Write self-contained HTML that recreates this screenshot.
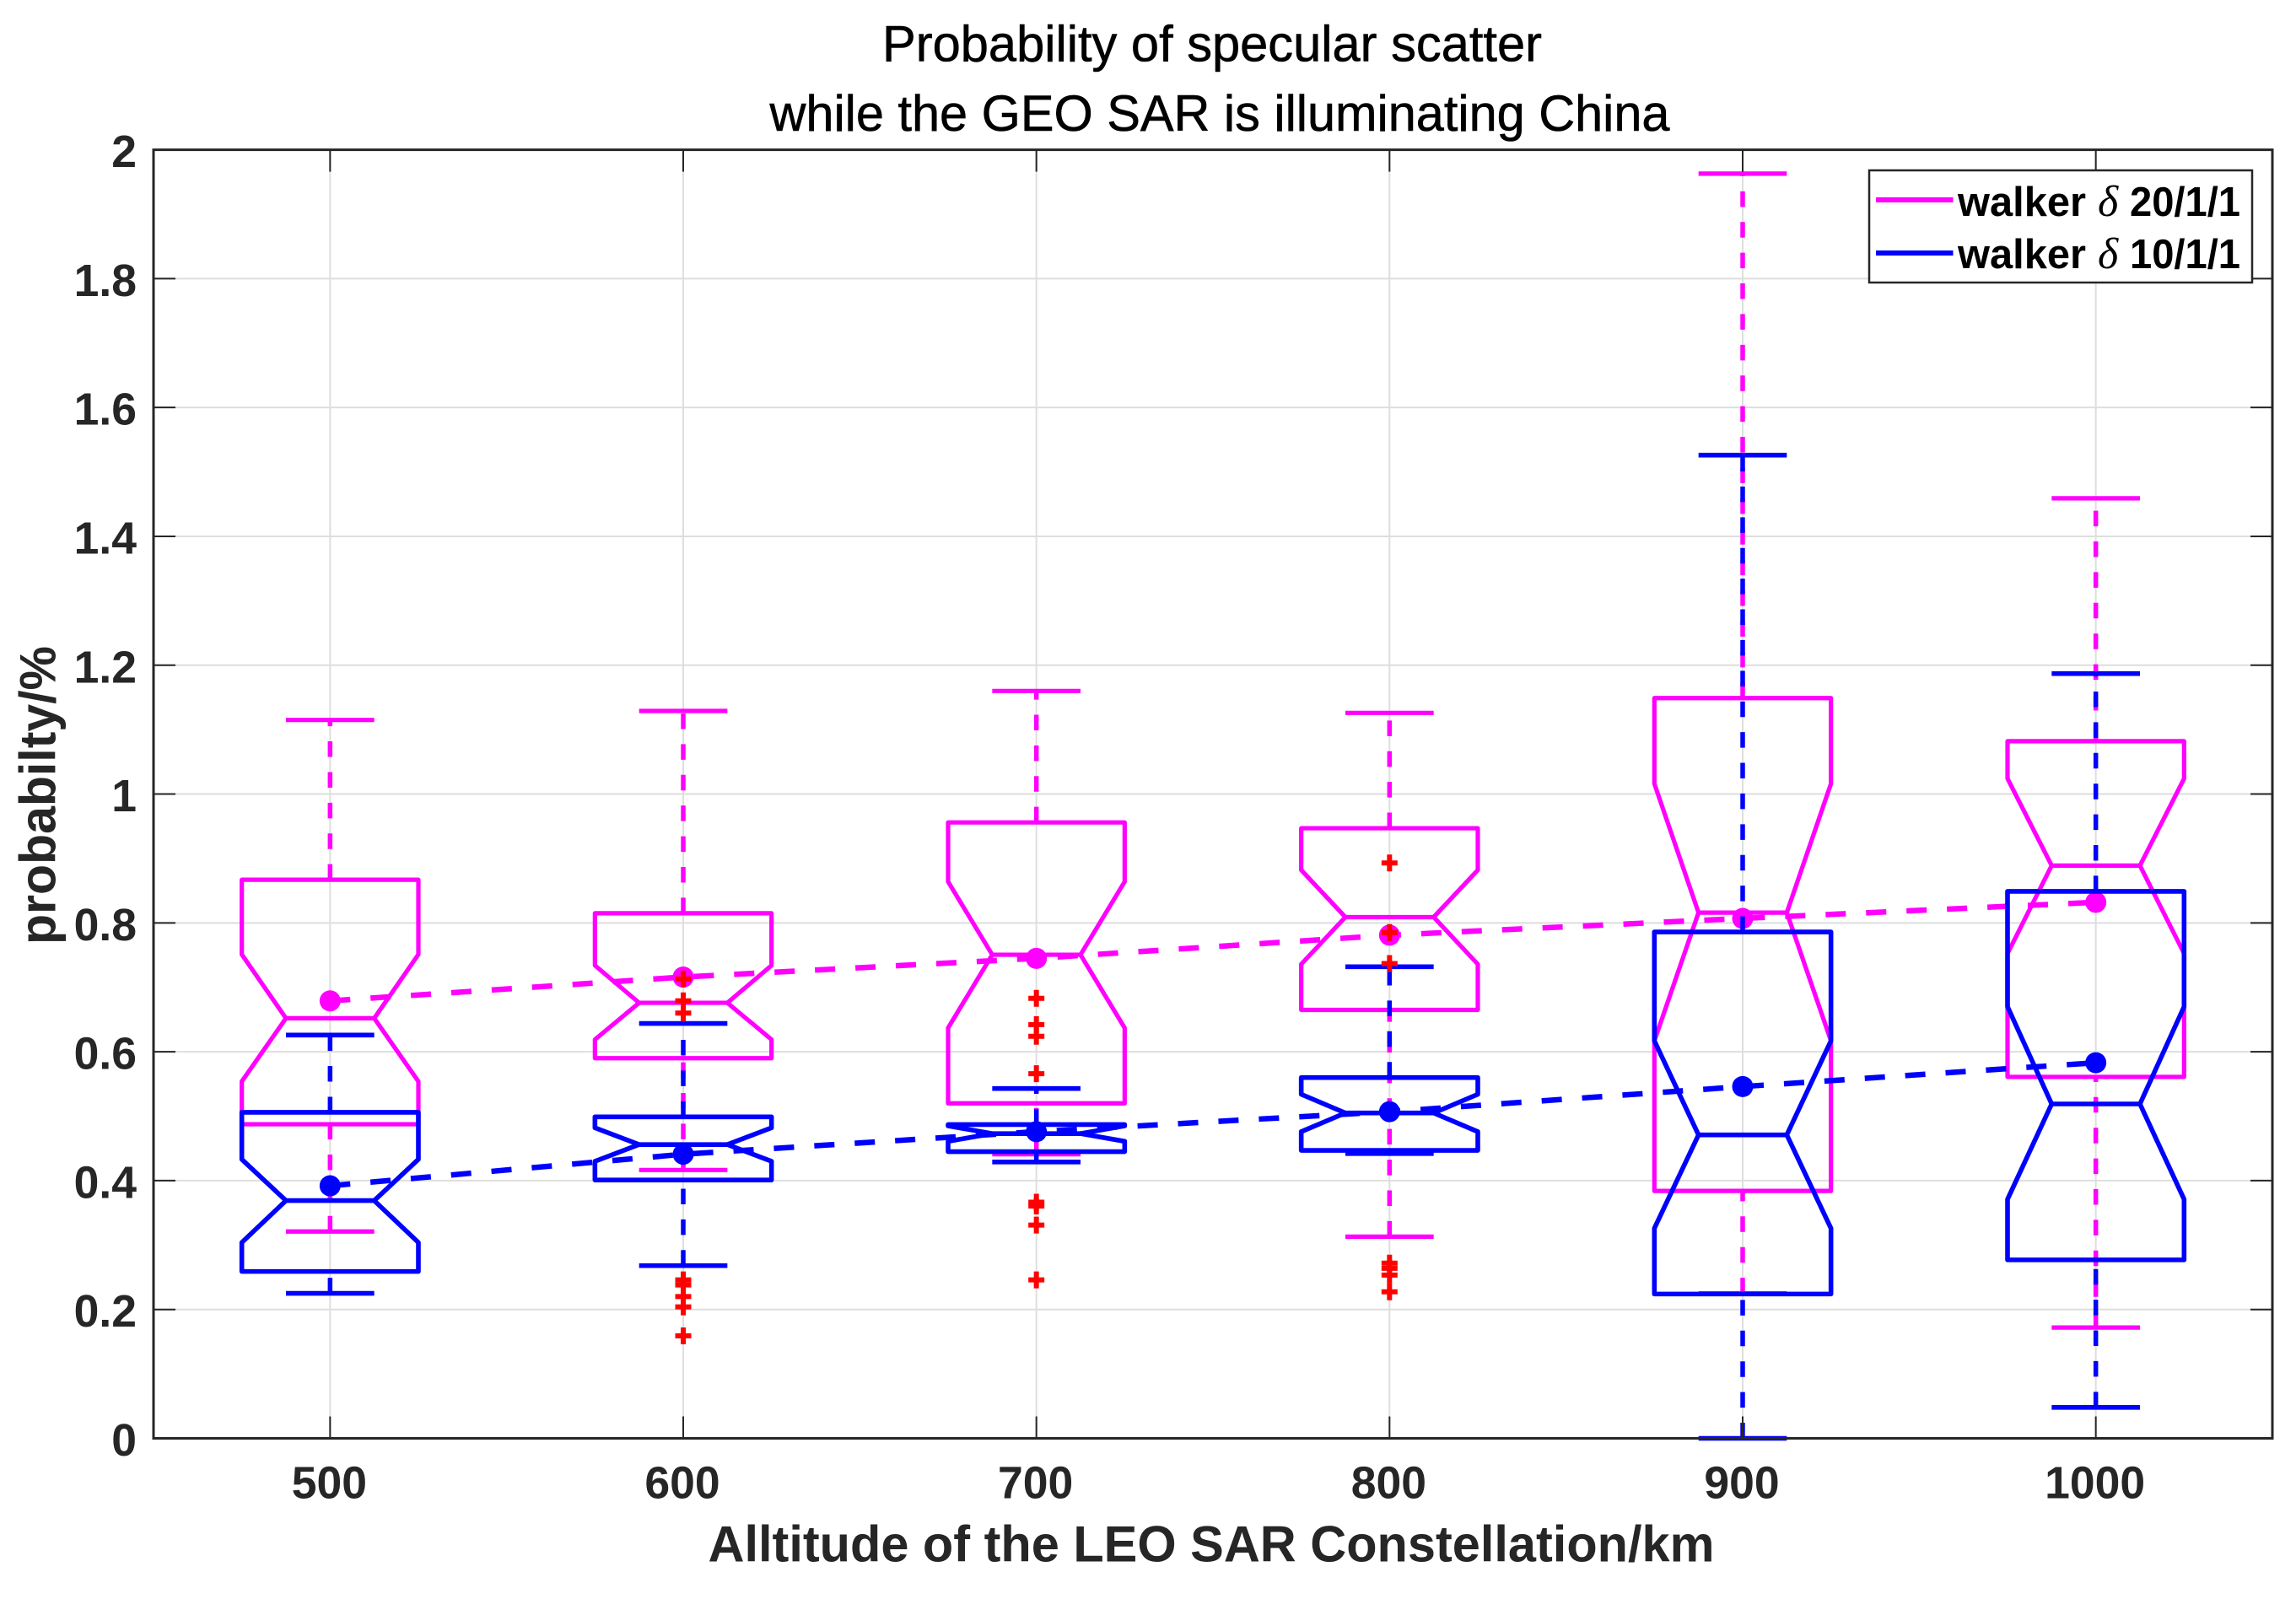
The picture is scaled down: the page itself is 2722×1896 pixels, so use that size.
<!DOCTYPE html>
<html lang="en">
<head>
<meta charset="utf-8">
<title>Probability of specular scatter</title>
<style>
html,body{margin:0;padding:0;background:#fff;}
svg{display:block;}
text{font-family:"Liberation Sans",Arial,sans-serif;}
</style>
</head>
<body>
<svg id="chart" xmlns="http://www.w3.org/2000/svg" width="2722" height="1896" viewBox="0 0 2722 1896">
  <rect x="0" y="0" width="2722" height="1896" fill="#fff"/>
  <g id="grid"></g>
  <g id="series-magenta"></g>
  <g id="series-blue"></g>
  <g id="outliers"></g>
  <g id="axes-frame"></g>
  <g id="tick-labels"></g>

  <text x="1437" y="72.5" text-anchor="middle" font-size="60" fill="#000" stroke="#000" stroke-width="0.6" textLength="782" lengthAdjust="spacingAndGlyphs">Probability of specular scatter</text>
  <text x="1446" y="155" text-anchor="middle" font-size="60" fill="#000" stroke="#000" stroke-width="0.6" textLength="1067" lengthAdjust="spacingAndGlyphs">while the GEO SAR is illuminating China</text>
  <text x="1436" y="1851.5" text-anchor="middle" font-size="60" font-weight="bold" fill="#262626" textLength="1193" lengthAdjust="spacingAndGlyphs">Alltitude of the LEO SAR Constellation/km</text>
  <text transform="translate(65.3 943) rotate(-90)" text-anchor="middle" font-size="60" font-weight="bold" fill="#262626" textLength="354" lengthAdjust="spacingAndGlyphs">probabilty/%</text>

  <g>
    <rect x="2216" y="202" width="454" height="133" fill="#fff" stroke="#262626" stroke-width="2.5"/>
    <line x1="2224" y1="237" x2="2315.5" y2="237" stroke="#ff00ff" stroke-width="6"/>
    <line x1="2224" y1="300" x2="2315.5" y2="300" stroke="#0000ff" stroke-width="6"/>
    <g font-size="49" font-weight="bold" fill="#000">
      <text x="2321" y="256" textLength="152" lengthAdjust="spacingAndGlyphs">walker</text>
      <text x="2487" y="256" font-size="52" font-weight="normal" font-style="italic" style="font-family:'Liberation Serif',serif">δ</text>
      <text x="2525" y="256" textLength="131" lengthAdjust="spacingAndGlyphs">20/1/1</text>
    </g>
    <g font-size="49" font-weight="bold" fill="#000">
      <text x="2321" y="318" textLength="152" lengthAdjust="spacingAndGlyphs">walker</text>
      <text x="2487" y="318" font-size="52" font-weight="normal" font-style="italic" style="font-family:'Liberation Serif',serif">δ</text>
      <text x="2525" y="318" textLength="131" lengthAdjust="spacingAndGlyphs">10/1/1</text>
    </g>
  </g>
</svg>

<script>
// ---- Chart data ----
const altitudes = [500, 600, 700, 800, 900, 1000];
const xTickLabels = ['500', '600', '700', '800', '900', '1000'];
const yTickValues = [0, 0.2, 0.4, 0.6, 0.8, 1, 1.2, 1.4, 1.6, 1.8, 2];
const yTickLabels = ['0', '0.2', '0.4', '0.6', '0.8', '1', '1.2', '1.4', '1.6', '1.8', '2'];

const magentaWhiskerLow  = [0.321, 0.4165, 0.441, 0.313, 0.225, 0.172];
const magentaQ1          = [0.4875, 0.590, 0.520, 0.665, 0.384, 0.561];
const magentaNotchLow    = [0.554, 0.619, 0.637, 0.736, 0.617, 0.7525];
const magentaMedian      = [0.652, 0.676, 0.7506, 0.809, 0.816, 0.889];
const magentaNotchHigh   = [0.751, 0.734, 0.864, 0.882, 1.016, 1.024];
const magentaQ3          = [0.867, 0.815, 0.956, 0.947, 1.149, 1.082];
const magentaWhiskerHigh = [1.115, 1.129, 1.160, 1.126, 1.963, 1.459];
const magentaMean        = [0.679, 0.716, 0.745, 0.781, 0.807, 0.832];

const blueWhiskerLow  = [0.225, 0.268, 0.429, 0.442, 0, 0.048];
const blueQ1          = [0.259, 0.401, 0.445, 0.447, 0.224, 0.277];
const blueNotchLow    = [0.304, 0.430, 0.461, 0.476, 0.326, 0.371];
const blueMedian      = [0.369, 0.456, 0.473, 0.505, 0.471, 0.519];
const blueNotchHigh   = [0.433, 0.482, 0.485, 0.534, 0.617, 0.670];
const blueQ3          = [0.506, 0.499, 0.487, 0.560, 0.786, 0.849];
const blueWhiskerHigh = [0.626, 0.644, 0.543, 0.732, 1.526, 1.187];
const blueMean        = [0.392, 0.441, 0.476, 0.507, 0.546, 0.583];

const outliers500 = [];
const outliers600 = [0.713, 0.679, 0.660, 0.246, 0.238, 0.220, 0.204, 0.159];
const outliers700 = [0.683, 0.642, 0.624, 0.566, 0.3665, 0.3606, 0.331, 0.246];
const outliers800 = [0.893, 0.785, 0.737, 0.272, 0.264, 0.2535, 0.2275];
const outliers900 = [];
const outliers1000 = [];

// ---- Axis functions ----
const axisLeft = 182, axisRight = 2694, axisTop = 177.6, axisBottom = 1705.5;
const xMin = 450, xMax = 1050, yMin = 0, yMax = 2;
function xScale(v) { return axisLeft + (v - xMin) * (axisRight - axisLeft) / (xMax - xMin); }
function yScale(v) { return axisBottom - (v - yMin) * (axisBottom - axisTop) / (yMax - yMin); }

const SVG_NS = 'http://www.w3.org/2000/svg';
function make(parent, tag, attrs) {
  const el = document.createElementNS(SVG_NS, tag);
  for (const k in attrs) el.setAttribute(k, attrs[k]);
  parent.appendChild(el);
  return el;
}

const gridGroup = document.getElementById('grid');
const frameGroup = document.getElementById('axes-frame');
const labelGroup = document.getElementById('tick-labels');
const DARK = '#262626', GRID = '#dedede';

// Grid lines, ticks, tick labels
altitudes.forEach(function (a, i) {
  const x = xScale(a);
  const g = make(gridGroup, 'line', { x1: x, y1: axisTop, x2: x, y2: axisBottom, stroke: GRID, 'stroke-width': 2 });
  
  
  const t1 = make(frameGroup, 'line', { x1: x, y1: axisBottom, x2: x, y2: axisBottom - 26, stroke: DARK, 'stroke-width': 2 });
  
  
  const t2 = make(frameGroup, 'line', { x1: x, y1: axisTop, x2: x, y2: axisTop + 26, stroke: DARK, 'stroke-width': 2 });
  
  
  const lab = make(labelGroup, 'text', { x: x - 1, y: 1776.5, 'text-anchor': 'middle', 'font-size': 53.5, 'font-weight': 'bold', fill: DARK });
  lab.textContent = xTickLabels[i];
  
  
});

yTickValues.forEach(function (v, i) {
  const y = yScale(v);
  if (v > yMin && v < yMax) {
    const g = make(gridGroup, 'line', { x1: axisLeft, y1: y, x2: axisRight, y2: y, stroke: GRID, 'stroke-width': 2 });
    
    
    const t1 = make(frameGroup, 'line', { x1: axisLeft, y1: y, x2: axisLeft + 26, y2: y, stroke: DARK, 'stroke-width': 2 });
    
    
    const t2 = make(frameGroup, 'line', { x1: axisRight, y1: y, x2: axisRight - 26, y2: y, stroke: DARK, 'stroke-width': 2 });
    
    
  }
  const lab = make(labelGroup, 'text', { x: 162, y: y + 20.5, 'text-anchor': 'end', 'font-size': 53.5, 'font-weight': 'bold', fill: DARK });
  lab.textContent = yTickLabels[i];
  
  
});

const frame = make(frameGroup, 'rect', { x: axisLeft, y: axisTop, width: axisRight - axisLeft, height: axisBottom - axisTop, fill: 'none', stroke: DARK, 'stroke-width': 3 });



// Boxes
const boxHalf = 25, notchHalf = 12.5;
function seg(x1, v1, x2, v2) {
  return 'M' + xScale(x1) + ' ' + yScale(v1) + 'L' + xScale(x2) + ' ' + yScale(v2);
}
function drawSeries(groupId, color, lw, wl, q1, nl, med, nh, q3, wh, mean) {
  const parent = document.getElementById(groupId);
  altitudes.forEach(function (a, i) {
    const box = make(parent, 'g', {});
    
    

    const upper = make(box, 'line', { x1: xScale(a), y1: yScale(q3[i]), x2: xScale(a), y2: yScale(wh[i]), stroke: color, 'stroke-width': 5.5, 'stroke-dasharray': '18.5 17.9' });
    
    
    const lower = make(box, 'line', { x1: xScale(a), y1: yScale(wl[i]), x2: xScale(a), y2: yScale(q1[i]), stroke: color, 'stroke-width': 5.5, 'stroke-dasharray': '18.5 17.9' });
    
    

    const capHi = make(box, 'path', { d: seg(a - notchHalf, wh[i], a + notchHalf, wh[i]), stroke: color, 'stroke-width': lw, fill: 'none' });
    
    
    const capLo = make(box, 'path', { d: seg(a - notchHalf, wl[i], a + notchHalf, wl[i]), stroke: color, 'stroke-width': lw, fill: 'none' });
    
    

    const pts = [
      [a - boxHalf, q1[i]], [a - boxHalf, nl[i]], [a - notchHalf, med[i]], [a - boxHalf, nh[i]],
      [a - boxHalf, q3[i]], [a + boxHalf, q3[i]], [a + boxHalf, nh[i]], [a + notchHalf, med[i]],
      [a + boxHalf, nl[i]], [a + boxHalf, q1[i]]
    ];
    const d = pts.map(function (p, k) { return (k ? 'L' : 'M') + xScale(p[0]) + ' ' + yScale(p[1]); }).join('') + 'Z';
    const outline = make(box, 'path', { d: d, stroke: color, 'stroke-width': lw, fill: 'none', 'stroke-linejoin': 'round' });
    
    

    const medLine = make(box, 'path', { d: seg(a - notchHalf, med[i], a + notchHalf, med[i]), stroke: color, 'stroke-width': lw, fill: 'none' });
    
    
  });

  const meanD = altitudes.map(function (a, i) { return (i ? 'L' : 'M') + xScale(a) + ' ' + yScale(mean[i]); }).join('');
  const meanLine = make(parent, 'path', { d: meanD, stroke: color, 'stroke-width': 6.5, fill: 'none', 'stroke-dasharray': '24 24' });
  
  

  altitudes.forEach(function (a, i) {
    const dot = make(parent, 'circle', { cx: xScale(a), cy: yScale(mean[i]), r: 12.5, fill: color });
    
    
  });
}

drawSeries('series-magenta', '#ff00ff', 5.2, magentaWhiskerLow, magentaQ1, magentaNotchLow, magentaMedian, magentaNotchHigh, magentaQ3, magentaWhiskerHigh, magentaMean);
drawSeries('series-blue', '#0000ff', 5.6, blueWhiskerLow, blueQ1, blueNotchLow, blueMedian, blueNotchHigh, blueQ3, blueWhiskerHigh, blueMean);

// Outliers
const outlierGroup = document.getElementById('outliers');
[outliers500, outliers600, outliers700, outliers800, outliers900, outliers1000].forEach(function (list, i) {
  list.forEach(function (v) {
    const x = xScale(altitudes[i]), y = yScale(v);
    const m = make(outlierGroup, 'path', { d: 'M' + (x - 9.5) + ' ' + y + 'H' + (x + 9.5) + 'M' + x + ' ' + (y - 10) + 'V' + (y + 10), stroke: '#ff0000', 'stroke-width': 6, fill: 'none' });
    
    
  });
});
</script>
</body>
</html>
